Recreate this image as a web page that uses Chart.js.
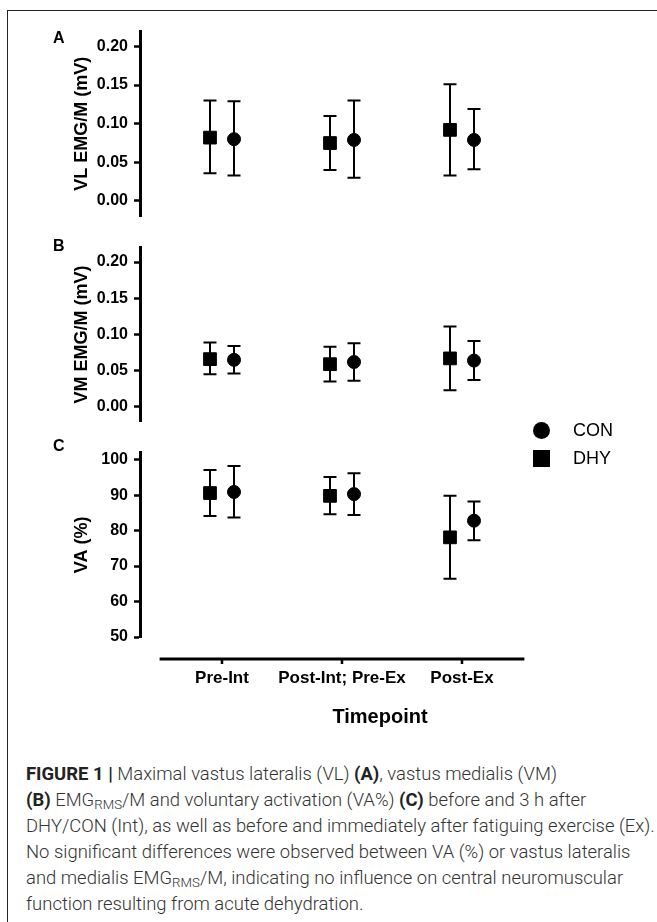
<!DOCTYPE html>
<html>
<head>
<meta charset="utf-8">
<script src="https://cdn.jsdelivr.net/npm/chart.js@4.4.1/dist/chart.umd.min.js"></script>
<style>
  body { margin: 0; background: #fff; width: 657px; height: 922px; overflow: hidden; position: relative; font-family: "Liberation Sans", Arial, sans-serif; }
  .frame { position: absolute; left: 7px; top: 10px; width: 720px; height: 1000px; border-left: 1.5px solid #222; border-top: 1.5px solid #222; }
  canvas { position: absolute; left: 0; }
  .tag { position: absolute; left: 53px; font: bold 16px "Liberation Sans", Arial, sans-serif; line-height: 16px; color: #000; }
  .legend { position: absolute; left: 533px; top: 419px; font: 18px "Liberation Sans", Arial, sans-serif; color: #000; }
  .legend div { height: 28px; line-height: 22px; position: relative; padding-left: 40px; }
  .legend i { position: absolute; left: 0; top: 3px; width: 17px; height: 17px; background: #000; }
  .legend i.circle { border-radius: 50%; }
  .caption { position: absolute; left: 26px; top: 761px; color: #333; font-family: Roboto, "Liberation Sans", sans-serif; font-weight: 300; font-size: 16px; line-height: 26px; }
  .caption div { white-space: nowrap; }
  .caption b { font-weight: 700; color: #222; }
  .caption sub { font-size: 0.72em; vertical-align: -0.25em; line-height: 0; }
</style>
</head>
<body>
<div class="frame"></div>
<canvas id="panelA" width="657" height="232" style="top:0"></canvas>
<canvas id="panelB" width="657" height="205" style="top:232px"></canvas>
<canvas id="panelC" width="657" height="303" style="top:437px"></canvas>
<div class="tag" style="top:30px">A</div>
<div class="tag" style="top:238px">B</div>
<div class="tag" style="top:438px">C</div>
<div class="legend" id="legend"></div>
<div class="caption" id="caption">
  <div><b>FIGURE 1 |</b> Maximal vastus lateralis (VL) <b>(A)</b>, vastus medialis (VM)</div>
  <div><b>(B)</b> EMG<sub>RMS</sub>/M and voluntary activation (VA%) <b>(C)</b> before and 3 h after</div>
  <div id="widest">DHY/CON (Int), as well as before and immediately after fatiguing exercise (Ex).</div>
  <div>No significant differences were observed between VA (%) or vastus lateralis</div>
  <div>and medialis EMG<sub>RMS</sub>/M, indicating no influence on central neuromuscular</div>
  <div>function resulting from acute dehydration.</div>
</div>
<script>
const categories = ['Pre-Int', 'Post-Int; Pre-Ex', 'Post-Ex'];

// A: VL EMG/M (mV)
const vlDhyMean = [0.082, 0.075, 0.092];
const vlDhyLow  = [0.036, 0.040, 0.033];
const vlDhyHigh = [0.130, 0.110, 0.151];
const vlConMean = [0.080, 0.079, 0.079];
const vlConLow  = [0.033, 0.030, 0.041];
const vlConHigh = [0.129, 0.130, 0.119];

// B: VM EMG/M (mV)
const vmDhyMean = [0.066, 0.059, 0.067];
const vmDhyLow  = [0.045, 0.035, 0.023];
const vmDhyHigh = [0.089, 0.083, 0.111];
const vmConMean = [0.065, 0.062, 0.064];
const vmConLow  = [0.046, 0.036, 0.037];
const vmConHigh = [0.084, 0.088, 0.091];

// C: VA (%)
const vaDhyMean = [90.6, 89.8, 78.1];
const vaDhyLow  = [84.1, 84.6, 66.4];
const vaDhyHigh = [97.1, 95.1, 89.8];
const vaConMean = [90.9, 90.3, 82.8];
const vaConLow  = [83.7, 84.4, 77.3];
const vaConHigh = [98.2, 96.2, 88.2];

const emgTicks = [0, 0.05, 0.10, 0.15, 0.20];
const vaTicks = [50, 60, 70, 80, 90, 100];

const DODGE = 0.1;
const AXIS_W = 140;

function series(label, mean, low, high, style, dodge) {
  return {
    label: label,
    pointStyle: style,
    data: mean.map((v, i) => ({ x: i + dodge, y: v })),
    low: low,
    high: high,
    backgroundColor: '#000',
    borderColor: '#000',
    pointRadius: style === 'rect' ? 9 : 6.5,
    pointHoverRadius: style === 'rect' ? 9 : 6.5,
    pointBorderWidth: 1,
    showLine: false
  };
}

// whiskers with caps, drawn through the chart scales
const errorBars = {
  id: 'errorBars',
  beforeDatasetsDraw(chart) {
    const ctx = chart.ctx, x = chart.scales.x, y = chart.scales.y;
    ctx.save();
    ctx.strokeStyle = '#000';
    ctx.lineWidth = 2;
    chart.data.datasets.forEach(ds => {
      ds.data.forEach((p, i) => {
        const px = x.getPixelForValue(p.x);
        const top = y.getPixelForValue(ds.high[i]);
        const bot = y.getPixelForValue(ds.low[i]);
        ctx.beginPath();
        ctx.moveTo(px, top); ctx.lineTo(px, bot);
        ctx.moveTo(px - 6.5, top); ctx.lineTo(px + 6.5, top);
        ctx.moveTo(px - 6.5, bot); ctx.lineTo(px + 6.5, bot);
        ctx.stroke();
      });
    });
    ctx.restore();
  }
};

// Prism-style x axis, detached below the plot
const detachedXAxis = {
  id: 'detachedXAxis',
  afterDraw(chart) {
    const x = chart.scales.x;
    if (!x.options.display) return;
    const ctx = chart.ctx;
    const y0 = chart.chartArea.bottom + 22;
    ctx.save();
    ctx.strokeStyle = '#000';
    ctx.lineWidth = 3;
    ctx.beginPath();
    ctx.moveTo(x.getPixelForValue(-0.52), y0);
    ctx.lineTo(x.getPixelForValue(categories.length - 1 + 0.52), y0);
    ctx.stroke();
    ctx.lineWidth = 2.5;
    categories.forEach((c, i) => {
      const px = x.getPixelForValue(i);
      ctx.beginPath();
      ctx.moveTo(px, y0);
      ctx.lineTo(px, y0 + 5);
      ctx.stroke();
    });
    ctx.restore();
  }
};

function makePanel(id, datasets, yTitle, yMin, yMax, yTicks, decimals, padTop, padBottom, showX) {
  return new Chart(document.getElementById(id), {
    type: 'scatter',
    data: { datasets: datasets },
    options: {
      responsive: false,
      animation: false,
      events: [],
      layout: { padding: { top: padTop, bottom: padBottom, left: 0, right: 37 } },
      plugins: { legend: { display: false }, tooltip: { enabled: false } },
      scales: {
        x: {
          type: 'linear',
          display: showX,
          min: -0.6833,
          max: 3.3167,
          grid: { display: false },
          border: { display: false },
          afterBuildTicks: s => { s.ticks = categories.map((c, i) => ({ value: i })); },
          afterFit: s => { if (showX) s.height = 103; },
          ticks: {
            autoSkip: false,
            maxRotation: 0,
            padding: 23,
            color: '#000',
            font: { family: 'Liberation Sans', size: 17, weight: 'bold' },
            callback: v => categories[v]
          },
          title: {
            display: showX,
            text: 'Timepoint',
            color: '#000',
            font: { family: 'Liberation Sans', size: 20, weight: 'bold' },
            padding: { top: 0, bottom: 11 }
          }
        },
        y: {
          min: yMin,
          max: yMax,
          afterBuildTicks: s => { s.ticks = yTicks.map(v => ({ value: v })); },
          afterFit: s => { s.width = AXIS_W; },
          grid: { display: true, drawOnChartArea: false, drawTicks: true, tickLength: 6, tickWidth: 2.5, color: '#000' },
          border: { display: true, color: '#000', width: 3 },
          ticks: {
            padding: 6,
            color: '#000',
            font: { family: 'Liberation Sans', size: 16, weight: 'bold' },
            callback: v => v.toFixed(decimals)
          },
          title: {
            display: true,
            text: yTitle,
            color: '#000',
            font: { family: 'Liberation Sans', size: 18, weight: 'bold' },
            padding: { top: 71, bottom: 0 }
          }
        }
      }
    },
    plugins: [errorBars, detachedXAxis]
  });
}

makePanel('panelA', [
  series('CON', vlConMean, vlConLow, vlConHigh, 'circle', DODGE),
  series('DHY', vlDhyMean, vlDhyLow, vlDhyHigh, 'rect', -DODGE)
], 'VL EMG/M (mV)', -0.02, 0.22, emgTicks, 2, 31, 9, false);

makePanel('panelB', [
  series('CON', vmConMean, vmConLow, vmConHigh, 'circle', DODGE),
  series('DHY', vmDhyMean, vmDhyLow, vmDhyHigh, 'rect', -DODGE)
], 'VM EMG/M (mV)', -0.02, 0.22, emgTicks, 2, 6, 7, false);

const chartC = makePanel('panelC', [
  series('CON', vaConMean, vaConLow, vaConHigh, 'circle', DODGE),
  series('DHY', vaDhyMean, vaDhyLow, vaDhyHigh, 'rect', -DODGE)
], 'VA (%)', 50, 102, vaTicks, 0, 8, 0, true);

// legend built from the datasets
const legendEl = document.getElementById('legend');
chartC.data.datasets.forEach(ds => {
  const row = document.createElement('div');
  row.innerHTML = '<i class="' + (ds.pointStyle === 'circle' ? 'circle' : '') + '"></i>' + ds.label;
  legendEl.appendChild(row);
});

// fit caption to its column width
const cap = document.getElementById('caption');
const w = document.getElementById('widest').getBoundingClientRect().width;
cap.style.fontSize = (16 * 629 / w) + 'px';
</script>
</body>
</html>
